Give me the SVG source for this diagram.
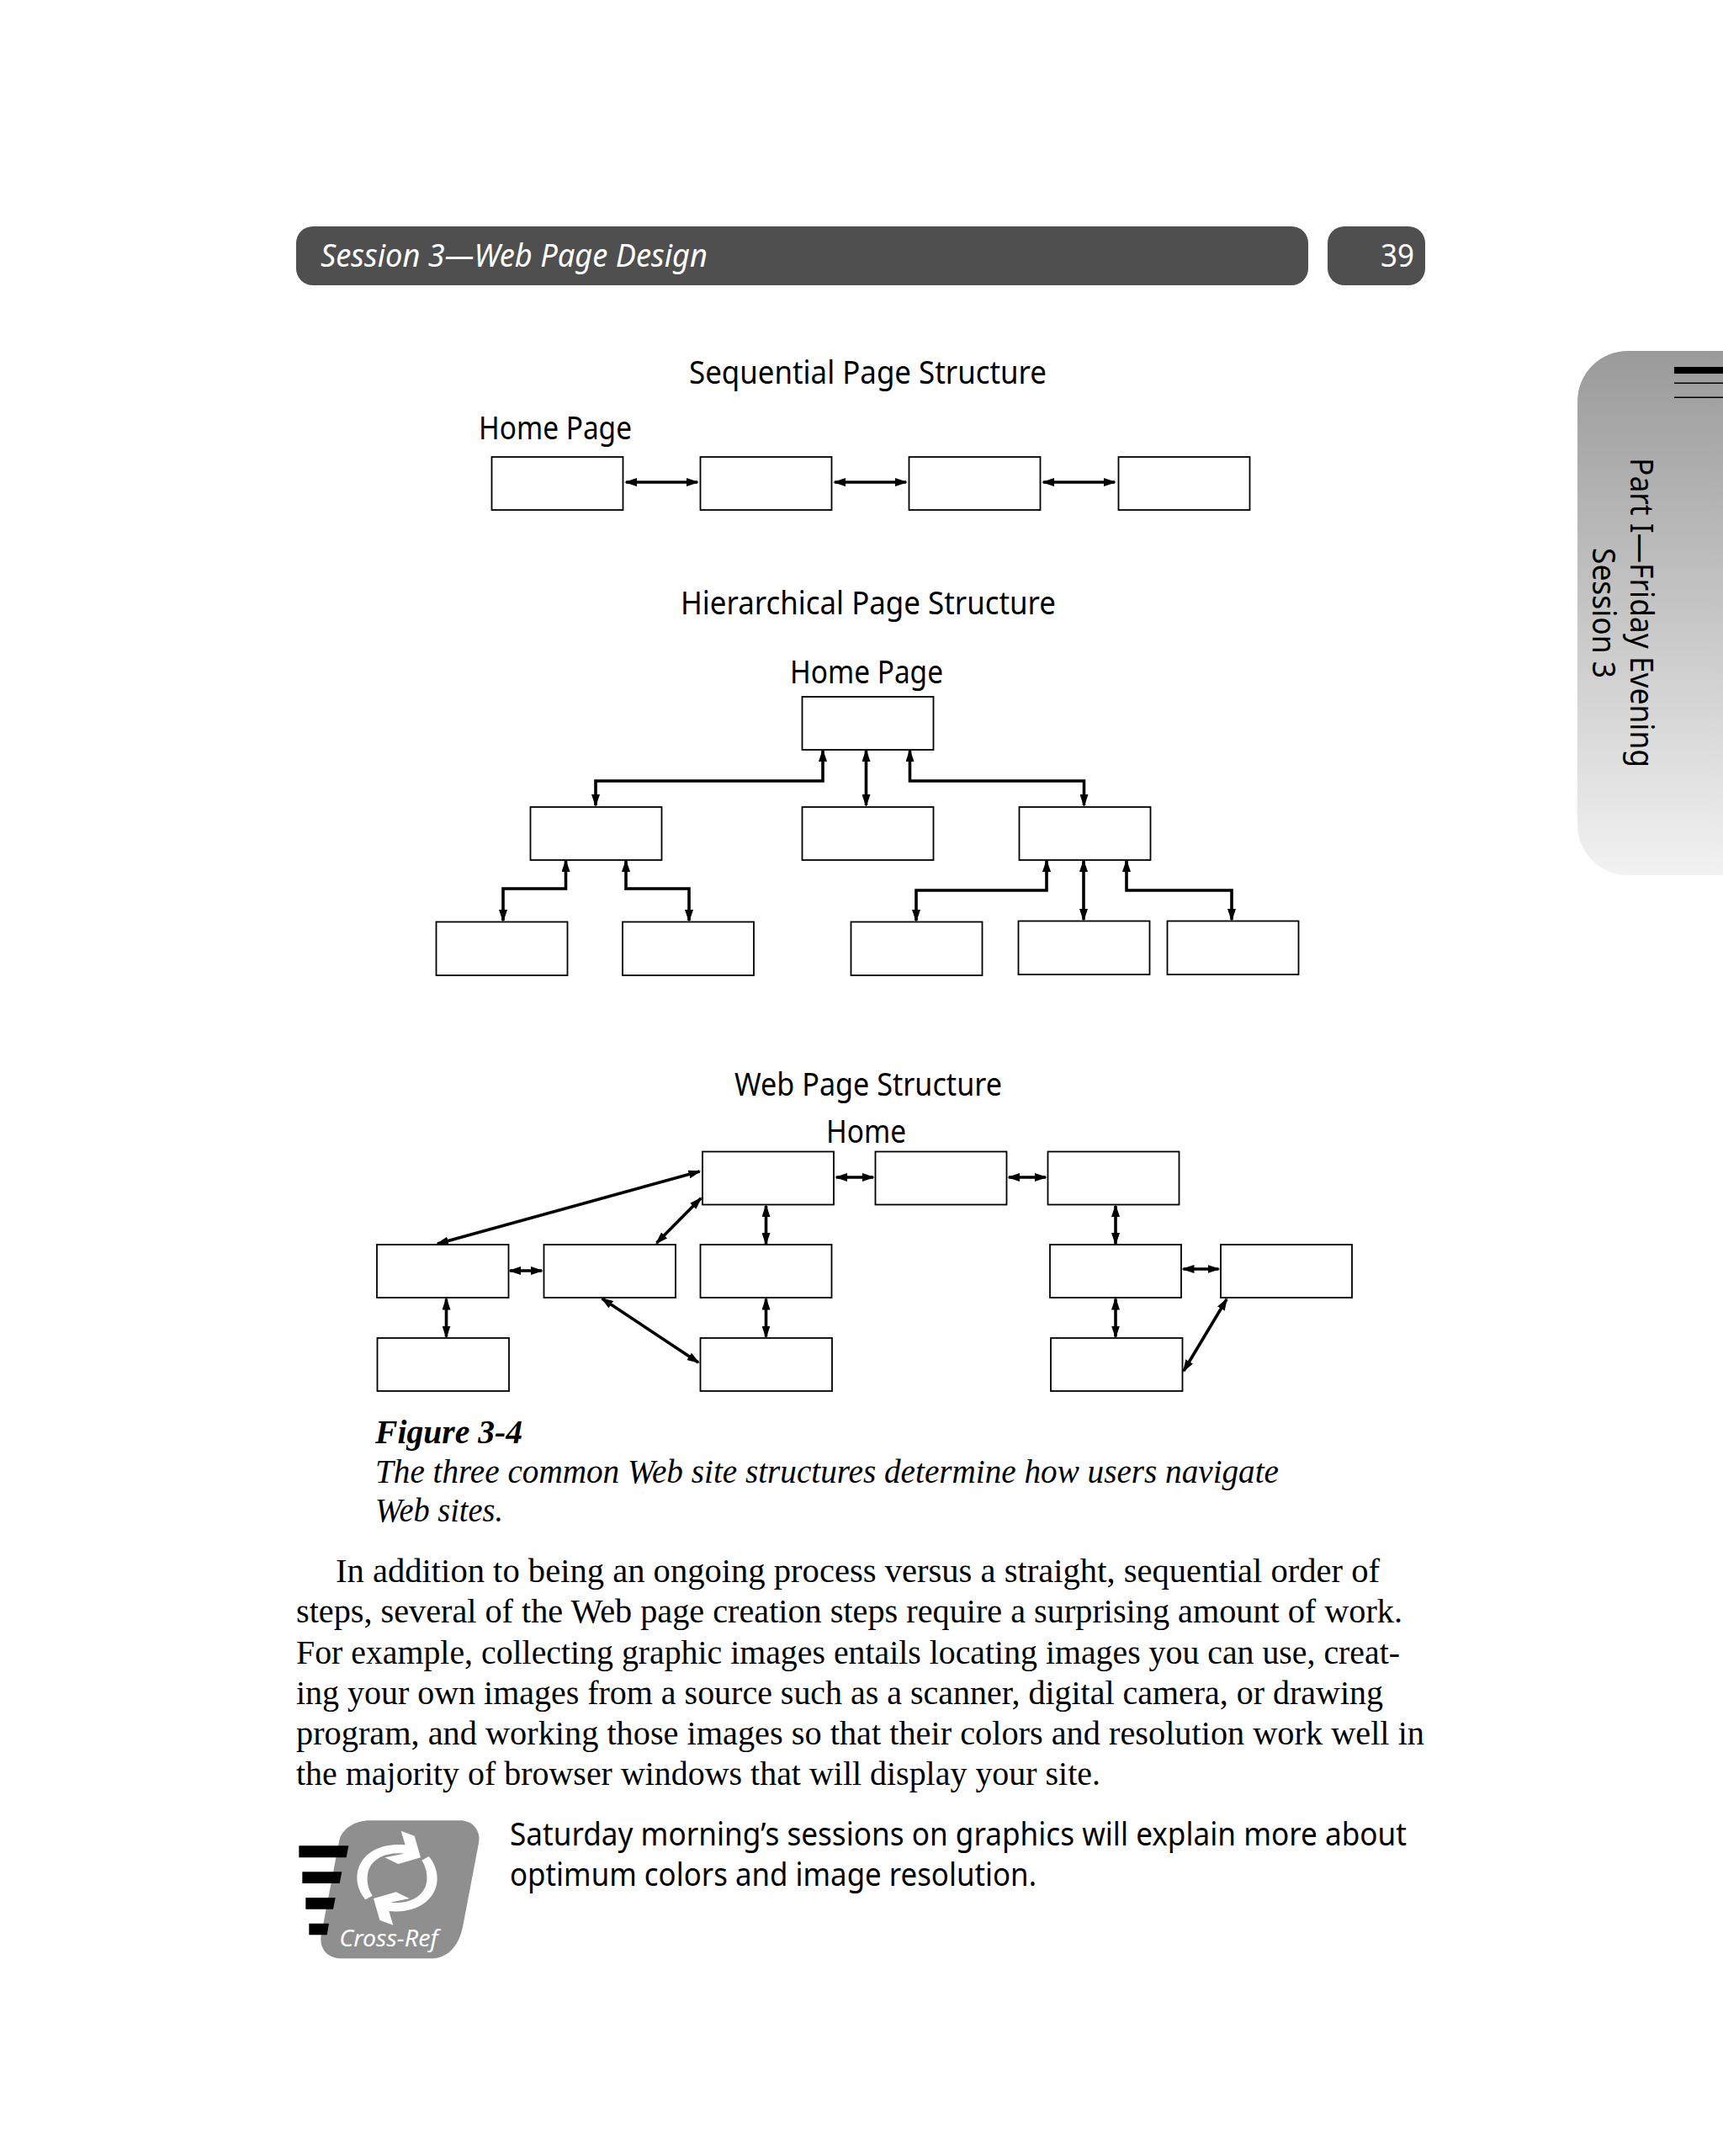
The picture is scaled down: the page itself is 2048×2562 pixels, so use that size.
<svg xmlns="http://www.w3.org/2000/svg" width="2048" height="2562" viewBox="0 0 2048 2562">
<style>
.n{fill:#fff;stroke:#000;stroke-width:1.8}
.c{fill:none;stroke:#000;stroke-width:3.600;marker-start:url(#a);marker-end:url(#a)}
.s{font-family:"Noto Sans",sans-serif;font-size:38px;fill:#000;font-variant-ligatures:none}
.b{font-family:"Liberation Serif",serif;font-size:40px;fill:#000}
.i{font-family:"Liberation Serif",serif;font-size:40px;font-style:italic;fill:#000}
.h{font-family:"Noto Sans",sans-serif;font-size:38px;font-style:italic;fill:#fff}
</style>
<defs>
<marker id="a" viewBox="0 0 15 10" markerUnits="userSpaceOnUse" markerWidth="15" markerHeight="10" refX="13" refY="5" orient="auto-start-reverse"><path d="M0 0L15 5L0 10Z" fill="#000"/></marker>
<linearGradient id="g" x1="0" y1="0" x2="0" y2="1"><stop offset="0" stop-color="#9a9a9a"/><stop offset="1" stop-color="#f2f2f2"/></linearGradient>
</defs>
<rect width="2048" height="2562" fill="#fff"/>

<g id="header">
<rect x="352" y="269" width="1203" height="70" rx="20" fill="#4f4f4f"/>
<rect x="1578" y="269" width="116" height="70" rx="20" fill="#4f4f4f"/>
<text class="h" x="381" y="317" textLength="460" lengthAdjust="spacingAndGlyphs">Session 3—Web Page Design</text>
<text class="h" x="1641" y="317" textLength="40" lengthAdjust="spacingAndGlyphs" style="font-style:normal">39</text>
</g>

<g id="side-tab">
<path d="M2048 417H1935A60 60 0 0 0 1875 477V980A60 60 0 0 0 1935 1040H2048Z" fill="url(#g)"/>
<rect x="1990" y="436" width="58" height="8" fill="#000"/>
<rect x="1990" y="454.500" width="58" height="1.500" fill="#000"/>
<rect x="1990" y="471.500" width="58" height="1.500" fill="#000"/>
<text class="s" transform="translate(1938 544) rotate(90)" textLength="368" lengthAdjust="spacingAndGlyphs">Part I—Friday Evening</text>
<text class="s" transform="translate(1893 651) rotate(90)" textLength="155" lengthAdjust="spacingAndGlyphs">Session 3</text>
</g>

<text class="s" x="819" y="456" textLength="425" lengthAdjust="spacingAndGlyphs">Sequential Page Structure</text>
<text class="s" x="569" y="522" textLength="182" lengthAdjust="spacingAndGlyphs">Home Page</text>
<text class="s" x="809" y="730" textLength="446" lengthAdjust="spacingAndGlyphs">Hierarchical Page Structure</text>
<text class="s" x="939" y="812" textLength="182" lengthAdjust="spacingAndGlyphs">Home Page</text>
<text class="s" x="873" y="1302" textLength="318" lengthAdjust="spacingAndGlyphs">Web Page Structure</text>
<text class="s" x="982" y="1358" textLength="95" lengthAdjust="spacingAndGlyphs">Home</text>

<g id="connectors">
<path class="c" d="M744 573H829"/>
<path class="c" d="M992 573H1077"/>
<path class="c" d="M1240 573H1325"/>
<path class="c" d="M978 892V928H708V957"/>
<path class="c" d="M1029.500 892V957"/>
<path class="c" d="M1081.500 892V928H1288.500V957"/>
<path class="c" d="M672.500 1023V1056H598V1094"/>
<path class="c" d="M744 1023V1056H819V1094"/>
<path class="c" d="M1244 1023V1058H1089V1094"/>
<path class="c" d="M1288 1023V1093"/>
<path class="c" d="M1339 1023V1058H1464V1093"/>
<path class="c" d="M831.500 1392L520 1478"/>
<path class="c" d="M833 1424L780.500 1477"/>
<path class="c" d="M994 1399H1038"/>
<path class="c" d="M1199 1399H1243"/>
<path class="c" d="M910.500 1433V1478"/>
<path class="c" d="M1326 1433V1478"/>
<path class="c" d="M606 1510H644"/>
<path class="c" d="M1406.500 1508H1448.500"/>
<path class="c" d="M530.500 1543.500V1588.500"/>
<path class="c" d="M910.500 1543.500V1588.500"/>
<path class="c" d="M1326 1543.500V1588.500"/>
<path class="c" d="M715.500 1543L830 1619"/>
<path class="c" d="M1458 1544L1407 1629"/>
</g>

<g id="seq-1"><rect class="n" x="584.500" y="543" width="156" height="63"/></g>
<g id="seq-2"><rect class="n" x="832.500" y="543" width="156" height="63"/></g>
<g id="seq-3"><rect class="n" x="1080.500" y="543" width="156" height="63"/></g>
<g id="seq-4"><rect class="n" x="1329.500" y="543" width="156" height="63"/></g>

<g id="hier-top"><rect class="n" x="953.500" y="828" width="156" height="63"/></g>
<g id="hier-l"><rect class="n" x="630.500" y="959" width="156" height="63"/></g>
<g id="hier-m"><rect class="n" x="953.500" y="959" width="156" height="63"/></g>
<g id="hier-r"><rect class="n" x="1211.500" y="959" width="156" height="63"/></g>
<g id="hier-ll"><rect class="n" x="518.500" y="1095.500" width="156" height="63.500"/></g>
<g id="hier-lr"><rect class="n" x="740" y="1095.500" width="156" height="63.500"/></g>
<g id="hier-rl"><rect class="n" x="1011.500" y="1095.500" width="156" height="63.500"/></g>
<g id="hier-rm"><rect class="n" x="1210.500" y="1094.500" width="156" height="63.500"/></g>
<g id="hier-rr"><rect class="n" x="1387.500" y="1094.500" width="156" height="63.500"/></g>

<g id="web-home"><rect class="n" x="835" y="1368.500" width="156" height="63"/></g>
<g id="web-top2"><rect class="n" x="1040.500" y="1368.500" width="156" height="63"/></g>
<g id="web-top3"><rect class="n" x="1245.500" y="1368.500" width="156" height="63"/></g>
<g id="web-m1"><rect class="n" x="448" y="1479" width="156.500" height="63"/></g>
<g id="web-m2"><rect class="n" x="646.500" y="1479" width="156.500" height="63"/></g>
<g id="web-m3"><rect class="n" x="832.500" y="1479" width="156" height="63"/></g>
<g id="web-m4"><rect class="n" x="1248" y="1479" width="156" height="63"/></g>
<g id="web-m5"><rect class="n" x="1451" y="1479" width="156" height="63"/></g>
<g id="web-b1"><rect class="n" x="448.500" y="1590" width="156.500" height="63"/></g>
<g id="web-b2"><rect class="n" x="832.500" y="1590" width="156.500" height="63"/></g>
<g id="web-b3"><rect class="n" x="1249" y="1590" width="156.500" height="63"/></g>

<g id="caption">
<text class="i" x="446" y="1715" textLength="175" lengthAdjust="spacingAndGlyphs" font-weight="700">Figure 3-4</text>
<text class="i" x="446" y="1762" textLength="1074" lengthAdjust="spacingAndGlyphs">The three common Web site structures determine how users navigate</text>
<text class="i" x="446" y="1808" textLength="152" lengthAdjust="spacingAndGlyphs">Web sites.</text>
</g>

<g id="body">
<text class="b" x="399" y="1879.500" textLength="1241" lengthAdjust="spacingAndGlyphs">In addition to being an ongoing process versus a straight, sequential order of</text>
<text class="b" x="352" y="1928" textLength="1315" lengthAdjust="spacingAndGlyphs">steps, several of the Web page creation steps require a surprising amount of work.</text>
<text class="b" x="352" y="1976.500" textLength="1312" lengthAdjust="spacingAndGlyphs">For example, collecting graphic images entails locating images you can use, creat-</text>
<text class="b" x="352" y="2024.500" textLength="1292" lengthAdjust="spacingAndGlyphs">ing your own images from a source such as a scanner, digital camera, or drawing</text>
<text class="b" x="352" y="2072.500" textLength="1341" lengthAdjust="spacingAndGlyphs">program, and working those images so that their colors and resolution work well in</text>
<text class="b" x="352" y="2120.500" textLength="956" lengthAdjust="spacingAndGlyphs">the majority of browser windows that will display your site.</text>
</g>

<g id="cross-ref-icon" transform="translate(340 2130) scale(.33333)">
<path d="M300 100H620C665 100 695 135 687 180L630 480C615 550 575 592 515 592H200C150 592 118 560 125 510L190 170C200 130 245 100 300 100Z" fill="#8f8f8f"/>
<path d="M46 190H223L215 232H46ZM58 283H199L191 324H58ZM70 375H176L168 416H70ZM82 467H153L146 508H82Z" fill="#000"/>
<path d="M283 382C255 350 245 305 260 265C285 205 350 180 425 187L410 137L458 155L480 232L400 255L352 232L420 218C365 212 315 230 296 272C283 305 292 345 308 368Z" fill="#fff"/>
<path d="M509 228C537 260 547 305 532 345C507 405 442 430 367 423L382 473L334 455L312 378L392 355L440 378L372 392C427 398 477 380 496 338C509 305 500 265 484 242Z" fill="#fff"/>
<text x="190" y="550" font-family="'Noto Sans',sans-serif" font-size="84" font-style="italic" fill="#fff" textLength="352" lengthAdjust="spacingAndGlyphs">Cross-Ref</text>
</g>

<g id="cross-ref-text">
<text class="s" x="606" y="2192.500" textLength="1066" lengthAdjust="spacingAndGlyphs">Saturday morning’s sessions on graphics will explain more about</text>
<text class="s" x="606" y="2240.500" textLength="626" lengthAdjust="spacingAndGlyphs">optimum colors and image resolution.</text>
</g>
</svg>
